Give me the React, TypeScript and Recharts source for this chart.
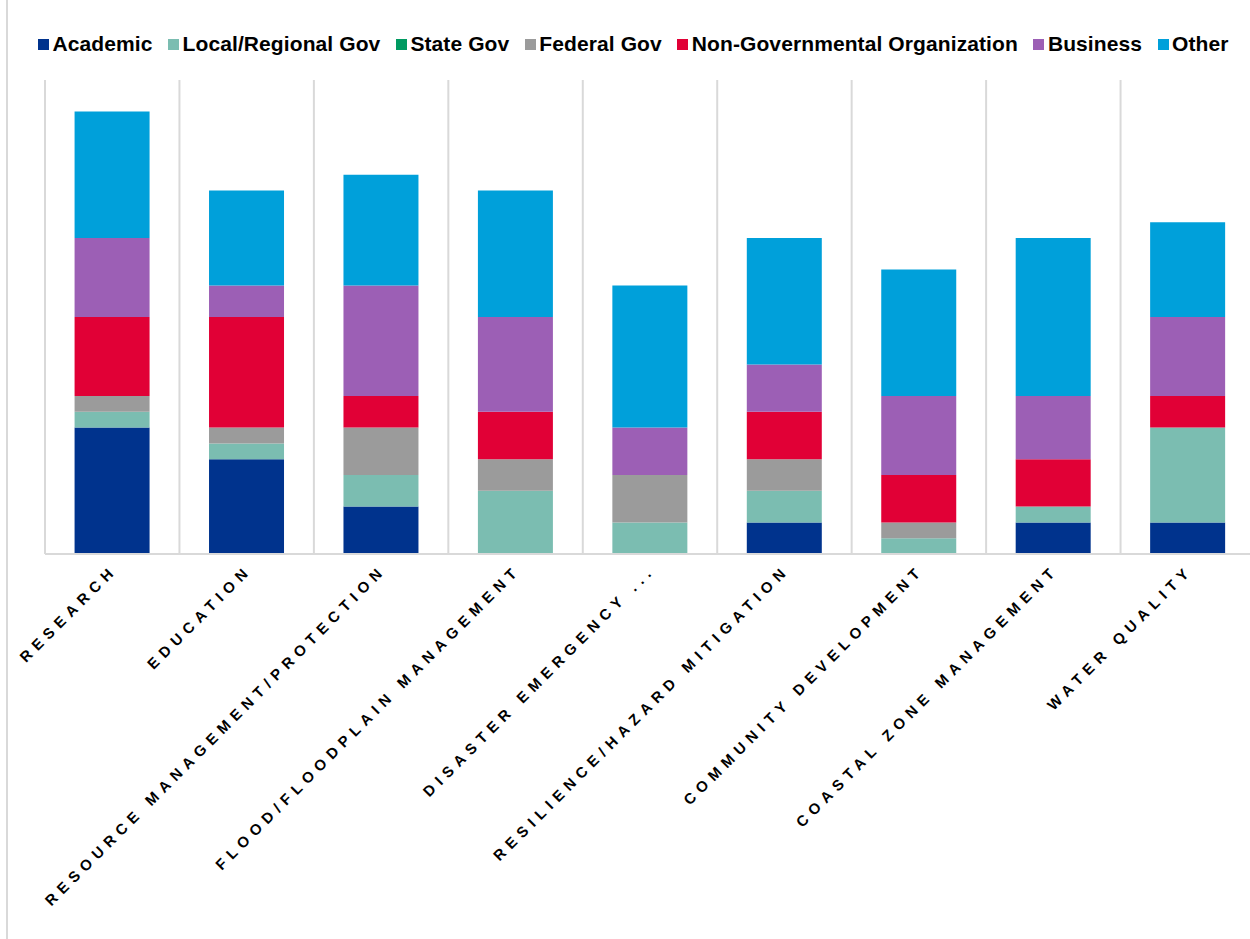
import React from 'react';
import { BarChart, Bar, XAxis, YAxis, CartesianGrid } from 'recharts';

const categories = [
  'RESEARCH',
  'EDUCATION',
  'RESOURCE MANAGEMENT/PROTECTION',
  'FLOOD/FLOODPLAIN MANAGEMENT',
  'DISASTER EMERGENCY ...',
  'RESILIENCE/HAZARD MITIGATION',
  'COMMUNITY DEVELOPMENT',
  'COASTAL ZONE MANAGEMENT',
  'WATER QUALITY',
];

const academic = [8, 6, 3, 0, 0, 2, 0, 2, 2];
const localGov = [1, 1, 2, 4, 2, 2, 1, 1, 6];
const stateGov = [0, 0, 0, 0, 0, 0, 0, 0, 0];
const federalGov = [1, 1, 3, 2, 3, 2, 1, 0, 0];
const ngo = [5, 7, 2, 3, 0, 3, 3, 3, 2];
const business = [5, 2, 7, 6, 3, 3, 5, 4, 5];
const other = [8, 6, 7, 8, 9, 8, 8, 10, 6];

const series = [
  { key: 'academic', name: 'Academic', color: '#00338d', values: academic },
  { key: 'localGov', name: 'Local/Regional Gov', color: '#7bbdb1', values: localGov },
  { key: 'stateGov', name: 'State Gov', color: '#009a61', values: stateGov },
  { key: 'federalGov', name: 'Federal Gov', color: '#9b9b9b', values: federalGov },
  { key: 'ngo', name: 'Non-Governmental Organization', color: '#e10036', values: ngo },
  { key: 'business', name: 'Business', color: '#9c5fb5', values: business },
  { key: 'other', name: 'Other', color: '#00a0da', values: other },
];

const data = categories.map((c, i) => {
  const row: Record<string, string | number> = { name: c };
  series.forEach((s) => {
    row[s.key] = s.values[i];
  });
  return row;
});

const CategoryTick = (props: any) => {
  const { x, y, payload } = props;
  const tx = x + 6;
  const ty = y + 17;
  return (
    <text
      x={tx}
      y={ty}
      transform={`rotate(-45 ${tx} ${ty})`}
      textAnchor="end"
      fontFamily="'Liberation Sans', Arial, sans-serif"
      fontWeight="bold"
      fontSize={15}
      letterSpacing={5.8}
      fill="#000"
    >
      {payload.value}
    </text>
  );
};

const App: React.FC = () => {
  return (
    <div style={{ position: 'relative', width: 1250, height: 939, overflow: 'hidden', background: '#fff' }}>
      <style>{'body{margin:0}'}</style>
      {/* chart border on the left */}
      <div style={{ position: 'absolute', left: 6, top: 0, bottom: 0, width: 2, background: '#d9d9d9' }} />

      {/* Legend */}
      <div
        style={{
          position: 'absolute',
          left: 38,
          top: 32,
          display: 'flex',
          alignItems: 'center',
          fontFamily: "'Liberation Sans', Arial, sans-serif",
          fontWeight: 'bold',
          fontSize: 21,
          letterSpacing: 0.1,
          color: '#000',
          whiteSpace: 'nowrap',
        }}
      >
        {series.map((s) => (
          <div key={s.key} style={{ display: 'flex', alignItems: 'center', marginRight: 15.5 }}>
            <span style={{ display: 'inline-block', width: 11, height: 11, background: s.color, marginRight: 3.5 }} />
            <span>{s.name}</span>
          </div>
        ))}
      </div>

      <BarChart
        width={1256}
        height={939}
        data={data}
        margin={{ top: 80, right: 1, bottom: 355, left: 45 }}
        barCategoryGap="22%"
      >
        <CartesianGrid
          horizontal={false}
          stroke="#d9d9d9"
          strokeWidth={2}
          verticalCoordinatesGenerator={({ offset }: any) =>
            categories.map((_, i) => offset.left + (i * offset.width) / categories.length)
          }
        />
        <XAxis
          dataKey="name"
          height={30}
          interval={0}
          tickLine={false}
          tickSize={0}
          tickMargin={0}
          axisLine={{ stroke: '#d9d9d9', strokeWidth: 2 }}
          tick={<CategoryTick />}
        />
        <YAxis hide domain={[0, 30]} />
        {series.map((s) => (
          <Bar key={s.key} dataKey={s.key} name={s.name} stackId="a" fill={s.color} isAnimationActive={false} />
        ))}
      </BarChart>
    </div>
  );
};

export default App;
